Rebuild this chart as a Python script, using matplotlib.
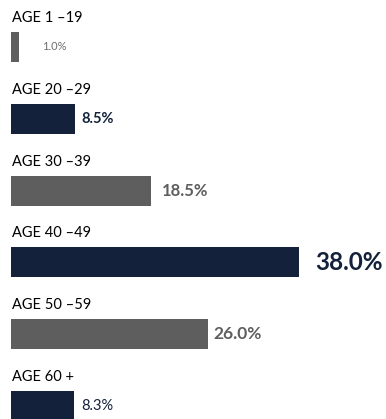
import matplotlib
matplotlib.use("Agg")
import matplotlib.pyplot as plt

plt.rcParams['font.family'] = ['Lato', 'DejaVu Sans']

# age bands and share of respondents (%)
age_groups = ["AGE 1 \u201319", "AGE 20 \u201329", "AGE 30 \u201339",
              "AGE 40 \u201349", "AGE 50 \u201359", "AGE 60 +"]
shares = [1.0, 8.5, 18.5, 38.0, 26.0, 8.3]

NAVY = "#13213B"
GREY = "#5E5E5E"

# per-bar styling of the value labels
bar_colors = [GREY, NAVY, GREY, NAVY, GREY, NAVY]
label_colors = ["#6E6E6E", NAVY, GREY, NAVY, GREY, NAVY]
label_sizes = [8, 10.5, 12, 17.5, 12.5, 10.5]
label_weights = ["normal", "bold", "bold", "bold", "bold", "normal"]
label_pad = [17, 4, 8, 12, 4, 5]   # gap after bar end, points

fig = plt.figure(figsize=(3.86, 4.19), dpi=100)
ax = fig.add_axes([0, 0, 1, 1])

px = 288 / 38.0          # pixels per percentage point
row = 71.8               # pixels between rows
ax.set_xlim(-11 / px, (386 - 11) / px)
ax.set_ylim((419 - 47) / row, -47 / row)

ypos = list(range(len(shares)))
ax.barh(ypos, shares, height=30 / row, color=bar_colors, left=0)

for i, (name, val) in enumerate(zip(age_groups, shares)):
    # band title above the bar
    ax.text(0.15, i - 25 / row, name, fontsize=10.5, color="black",
            va="baseline", ha="left")
    ax.annotate(f"{val:.1f}%", xy=(val, i), xytext=(label_pad[i], 0),
                textcoords="offset points", va="center", ha="left",
                fontsize=label_sizes[i], fontweight=label_weights[i],
                color=label_colors[i])

ax.axis("off")
fig.savefig("out.png", dpi=100)
